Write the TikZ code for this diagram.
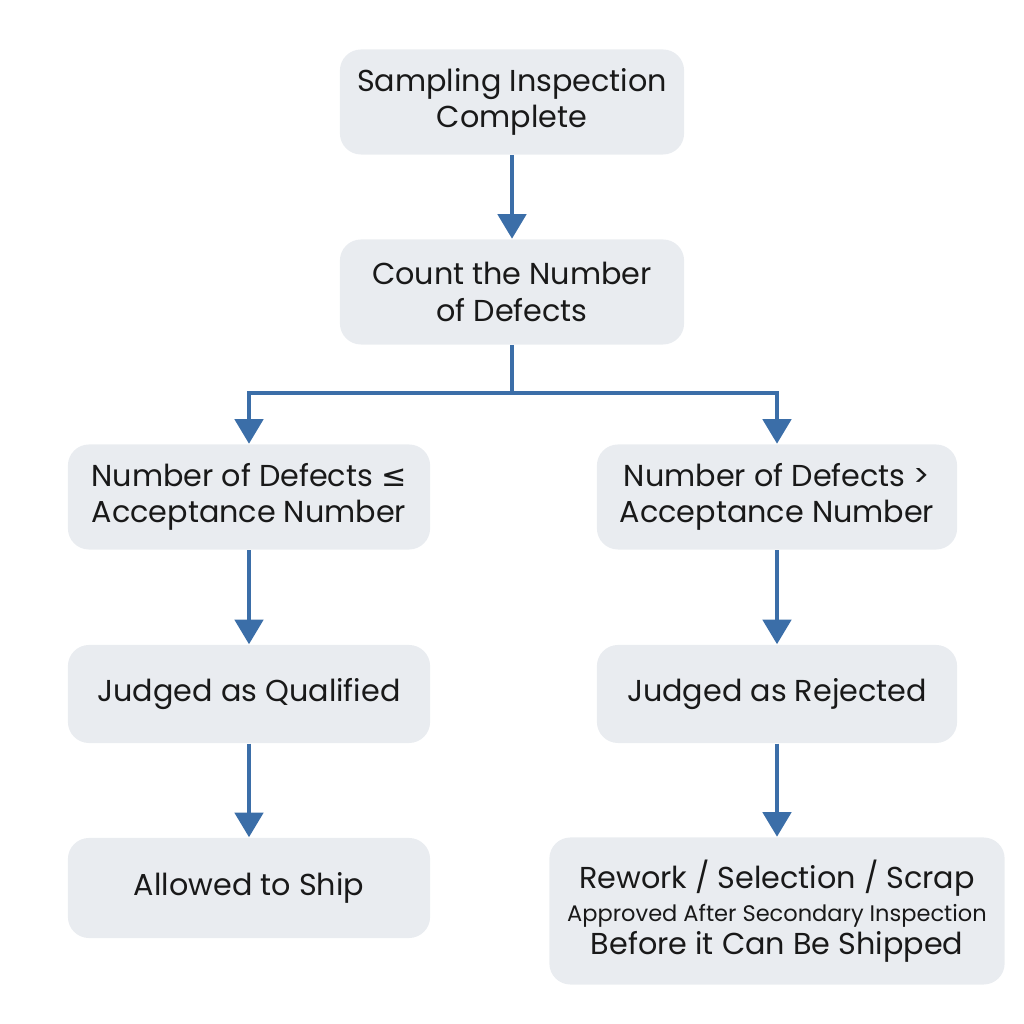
\documentclass[tikz,border=0pt]{standalone}
\usepackage{fontspec}
\setmainfont{Poppins}
\newfontfamily\symfont{DejaVu Sans}
\usetikzlibrary{arrows.meta}
\definecolor{boxfill}{HTML}{E9ECF0}
\definecolor{flowblue}{HTML}{3B6EA8}

\begin{document}
\begin{tikzpicture}[x=0.01cm,y=0.01cm,
stage/.style={fill=boxfill,rounded corners=6pt,align=center,inner sep=0pt,
  font=\fontsize{8.6}{10.3}\selectfont,text=black!90},
flow/.style={flowblue,line width=1.3pt,-{Triangle[length=7pt,width=8pt]}}]
\useasboundingbox (0,0) rectangle (1024,1024);
\node[stage,minimum width=3.44cm,minimum height=1.05cm] (sampling) at (512,922) {Sampling Inspection\\Complete};
\node[stage,minimum width=3.44cm,minimum height=1.05cm] (count) at (512,732) {Count the Number\\of Defects};
\node[stage,minimum width=3.62cm,minimum height=1.05cm] (accept) at (249,527) {Number of Defects {\symfont≤}\\Acceptance Number};
\node[stage,minimum width=3.60cm,minimum height=1.05cm] (exceed) at (777,527) {Number of Defects >\\Acceptance Number};
\node[stage,minimum width=3.62cm,minimum height=0.98cm] (qualified) at (249,330) {Judged as Qualified};
\node[stage,minimum width=3.60cm,minimum height=0.98cm] (rejected) at (777,330) {Judged as Rejected};
\node[stage,minimum width=3.62cm,minimum height=1.00cm] (ship) at (249,136) {Allowed to Ship};
\node[stage,minimum width=4.55cm,minimum height=1.47cm] (rework) at (777,113)
  {Rework / Selection / Scrap\\[-1pt]{\fontsize{6.4}{8}\selectfont Approved After Secondary Inspection}\\[-1pt]Before it Can Be Shipped};
\coordinate (split) at (512,631);

\draw[flow] (sampling) -- (count);
\draw[flowblue,line width=1.3pt] (count) -- (split);
\draw[flow] (split) -| (accept);
\draw[flow] (split) -| (exceed);
\draw[flow] (accept) -- (qualified);
\draw[flow] (exceed) -- (rejected);
\draw[flow] (qualified) -- (ship);
\draw[flow] (rejected) -- (rework);
\end{tikzpicture}
\end{document}
